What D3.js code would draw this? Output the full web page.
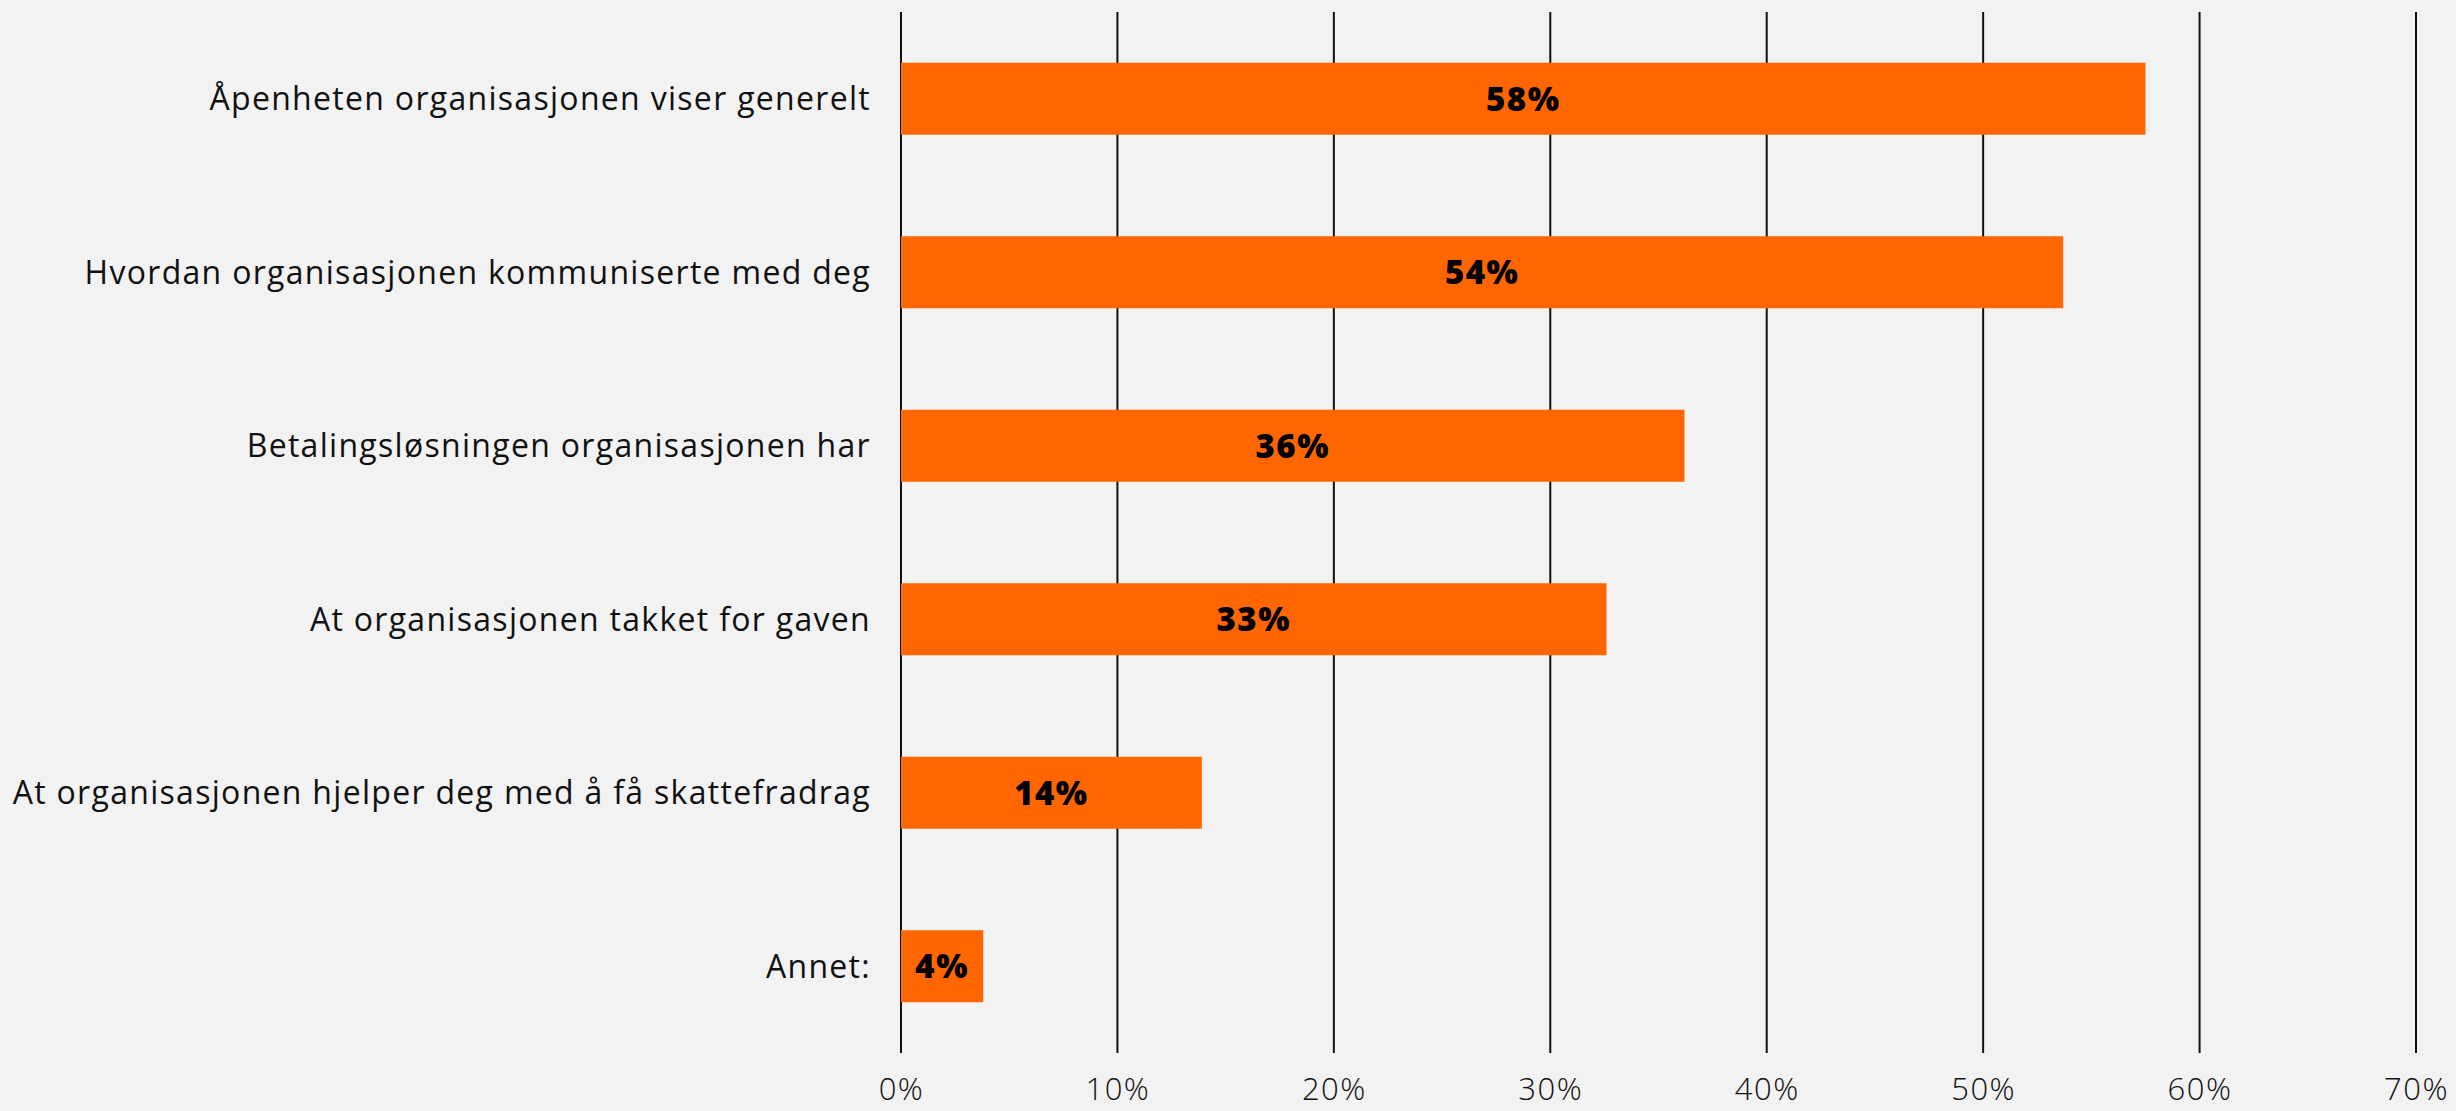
<!DOCTYPE html>
<html>
<head>
<meta charset="utf-8">
<script src="https://cdn.jsdelivr.net/npm/d3@7"></script>
<style>
  html, body { margin: 0; padding: 0; background: #f2f2f2; }
  svg { display: block; }
</style>
</head>
<body>
<svg id="chart" width="2456" height="1111"></svg>
<script>
const categories = [
  "Åpenheten organisasjonen viser generelt",
  "Hvordan organisasjonen kommuniserte med deg",
  "Betalingsløsningen organisasjonen har",
  "At organisasjonen takket for gaven",
  "At organisasjonen hjelper deg med å få skattefradrag",
  "Annet:"
];
const values = [57.5, 53.7, 36.2, 32.6, 13.9, 3.8];
const valueLabels = ["58%", "54%", "36%", "33%", "14%", "4%"];
const tickValues = [0, 10, 20, 30, 40, 50, 60, 70];

const svg = d3.select("#chart");
const fontFamily = "'Open Sans', 'DejaVu Sans', sans-serif";

const x = d3.scaleLinear().domain([0, 70]).range([901, 2416]);
const y = d3.scaleBand()
  .domain(categories)
  .range([12, 1053])
  .paddingInner(0.585)
  .paddingOuter(0.2925);

svg.append("rect")
  .attr("width", 2456)
  .attr("height", 1111)
  .attr("fill", "#f2f2f2");

// vertical grid lines
svg.append("g")
  .selectAll("line")
  .data(tickValues)
  .join("line")
  .attr("x1", (d) => x(d))
  .attr("x2", (d) => x(d))
  .attr("y1", 12)
  .attr("y2", 1053)
  .attr("stroke", "#111")
  .attr("stroke-width", 2);

// bars
svg.append("g")
  .selectAll("rect")
  .data(values)
  .join("rect")
  .attr("x", x(0))
  .attr("y", (d, i) => y(categories[i]))
  .attr("width", (d) => x(d) - x(0))
  .attr("height", y.bandwidth())
  .attr("fill", "#ff6600");

// value labels inside bars
svg.append("g")
  .selectAll("text")
  .data(values)
  .join("text")
  .attr("x", (d) => (x(0) + x(d)) / 2)
  .attr("y", (d, i) => y(categories[i]) + y.bandwidth() / 2)
  .attr("dy", "0.36em")
  .attr("text-anchor", "middle")
  .attr("font-family", fontFamily)
  .attr("font-weight", 800)
  .attr("font-size", 33)
  .attr("letter-spacing", 1.5)
  .attr("fill", "#000")
  .text((d, i) => valueLabels[i]);

// category labels
svg.append("g")
  .selectAll("text")
  .data(categories)
  .join("text")
  .attr("x", 871)
  .attr("y", (d) => y(d) + y.bandwidth() / 2)
  .attr("dy", "0.36em")
  .attr("text-anchor", "end")
  .attr("font-family", fontFamily)
  .attr("font-weight", 400)
  .attr("font-size", 32)
  .attr("letter-spacing", 1.3)
  .attr("fill", "#111")
  .text((d) => d);

// x axis tick labels
const xAxis = d3.axisBottom(x)
  .tickValues(tickValues)
  .tickSize(0)
  .tickPadding(0)
  .tickFormat((d) => d + "%");

svg.append("g")
  .attr("transform", "translate(0,1078)")
  .call(xAxis)
  .call((g) => g.select(".domain").remove())
  .call((g) => g.selectAll("text")
    .attr("font-family", fontFamily)
    .attr("font-weight", 300)
    .attr("font-size", 31)
    .attr("letter-spacing", 1.5)
    .attr("fill", "#111"));
</script>
</body>
</html>
